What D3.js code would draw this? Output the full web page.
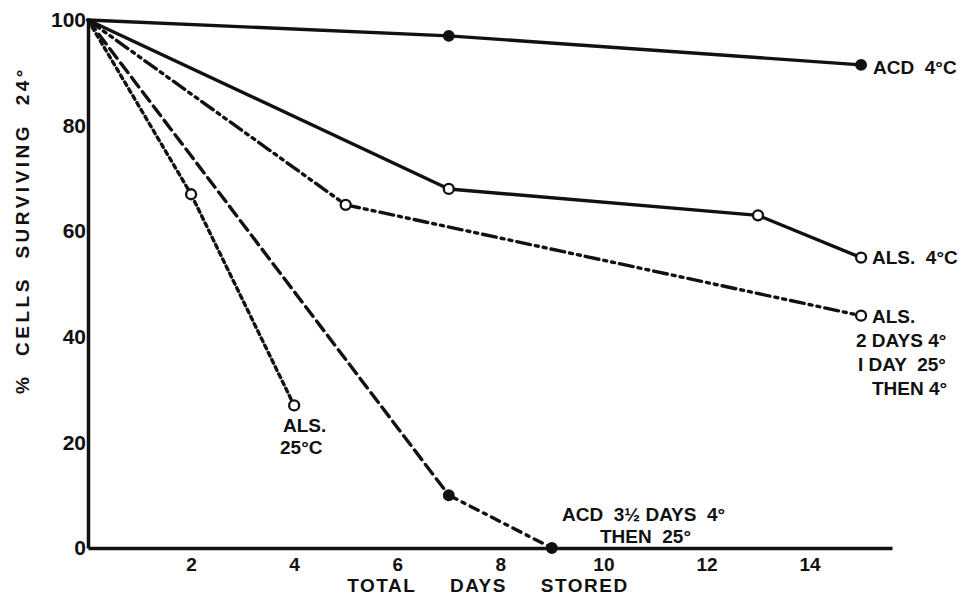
<!DOCTYPE html>
<html>
<head>
<meta charset="utf-8">
<script src="https://cdn.jsdelivr.net/npm/d3@7"></script>
<style>
  body { margin: 0; background: #fff; }
  text { font-family: "Liberation Sans", Arial, sans-serif; font-weight: bold; fill: #111; white-space: pre; }
</style>
</head>
<body>
<script>
// Page size
var w = 973;
var h = 602;

// Tick values
var xTicks = [2, 4, 6, 8, 10, 12, 14];
var yTicks = [0, 20, 40, 60, 80, 100];

// Series (days stored, % cells surviving)
var acd4Days = [0, 7, 15];
var acd4Vals = [100, 97, 91.5];

var als4Days = [0, 7, 13, 15];
var als4Vals = [100, 68, 63, 55];

var alsMixDays = [0, 5, 15];
var alsMixVals = [100, 65, 44];

var als25Days = [0, 2, 4];
var als25Vals = [100, 67, 27];

var acdMixDays = [0, 7, 9];
var acdMixVals = [100, 10, 0];

function zip(xs, ys) {
    return xs.map(function(d, i) { return [d, ys[i]]; });
}

// dash: one pattern per segment; filled: marker type
var series = [
    { pts: zip(acd4Days, acd4Vals), dash: ["none", "none"], filled: true },
    { pts: zip(als4Days, als4Vals), dash: ["none", "none", "none"], filled: false },
    { pts: zip(alsMixDays, alsMixVals), dash: ["14,5,3,5,3,5", "14,5,3,5,3,5"], filled: false },
    { pts: zip(als25Days, als25Vals), dash: ["4,4", "4,4"], filled: false },
    { pts: zip(acdMixDays, acdMixVals), dash: ["12,6", "9,6,3,6"], filled: true }
];

var svg = d3.select("body")
            .append("svg")
            .attr("width", w)
            .attr("height", h);

var x = d3.scaleLinear().domain([0, 15.6]).range([88, 892]);
var y = d3.scaleLinear().domain([0, 100]).range([548, 20]);

// axes, no tick marks
var xAxis = svg.append("g")
    .attr("transform", "translate(0," + y(0) + ")")
    .call(d3.axisBottom(x).tickValues(xTicks).tickSize(0).tickPadding(10));
xAxis.select(".domain").attr("stroke", "#111").attr("stroke-width", 3.5);
xAxis.selectAll("text").style("font-size", "19px");

var yAxis = svg.append("g")
    .attr("transform", "translate(" + x(0) + ",0)")
    .call(d3.axisLeft(y).tickValues(yTicks).tickSize(0).tickPadding(2));
yAxis.select(".domain").attr("stroke", "#111").attr("stroke-width", 3.5);
yAxis.selectAll("text").style("font-size", "21px");

// lines, drawn segment by segment so each piece can carry its own dash
var line = d3.line().x(function(d) { return x(d[0]); }).y(function(d) { return y(d[1]); });

series.forEach(function(s) {
    for (var i = 0; i < s.pts.length - 1; i++) {
        svg.append("path")
            .attr("d", line([s.pts[i], s.pts[i + 1]]))
            .attr("fill", "none")
            .attr("stroke", "#111")
            .attr("stroke-width", 3.4)
            .attr("stroke-linecap", "round")
            .attr("stroke-dasharray", s.dash[i]);
    }
    svg.selectAll(null)
        .data(s.pts.slice(1))
        .enter()
        .append("circle")
        .attr("cx", function(d) { return x(d[0]); })
        .attr("cy", function(d) { return y(d[1]); })
        .attr("r", s.filled ? 4.8 : 5)
        .attr("fill", s.filled ? "#111" : "#fff")
        .attr("stroke", "#111")
        .attr("stroke-width", 2.3);
});

// annotations
function label(tx, ty, str) {
    svg.append("text")
        .attr("x", tx)
        .attr("y", ty)
        .attr("dy", "0.35em")
        .style("font-size", "19px")
        .text(str);
}
label(873, 67, "ACD  4°C");
label(872, 257, "ALS.  4°C");
label(872, 316, "ALS.");
label(856, 340, "2 DAYS 4°");
label(858, 364, "I DAY  25°");
label(872, 388, "THEN 4°");
label(283, 425, "ALS.");
label(280, 447, "25°C");
label(562, 514, "ACD  3½ DAYS  4°");
label(600, 536, "THEN  25°");

// axis titles
svg.append("text")
    .attr("x", 488)
    .attr("y", 592)
    .attr("text-anchor", "middle")
    .style("font-size", "19px")
    .style("letter-spacing", "1.5px")
    .text("TOTAL     DAYS     STORED");

svg.append("text")
    .attr("transform", "translate(22,230) rotate(-90)")
    .attr("text-anchor", "middle")
    .attr("dy", "0.35em")
    .style("font-size", "19px")
    .style("letter-spacing", "3.5px")
    .text("%  CELLS  SURVIVING  24°");
</script>
</body>
</html>
